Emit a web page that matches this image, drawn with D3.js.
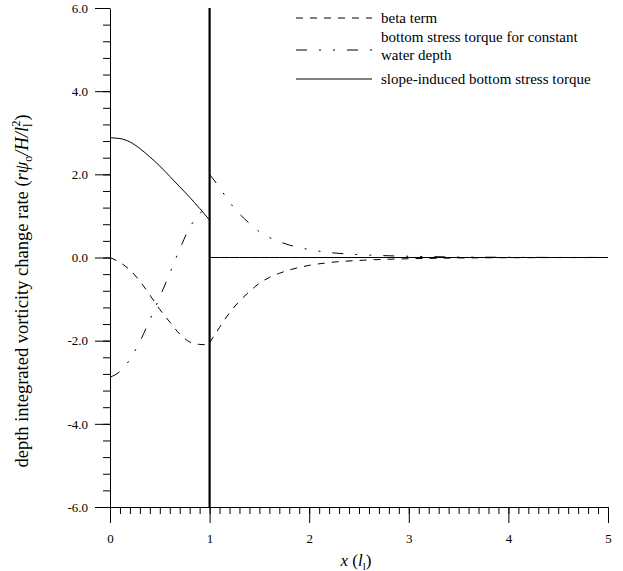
<html>
<meta charset="utf-8" />
<head>
<style>
body { margin: 0; background: #fff; }
svg text { font-family: "Liberation Serif", "DejaVu Serif", serif; fill: black; }
</style>
<script src="https://d3js.org/d3.v7.min.js" charset="utf-8"></script>
</head>
<body>
<svg class="chart" width="623" height="571"></svg>
<script>
// x positions (units of l_l)
var xLeft  = [0, 0.1, 0.2, 0.3, 0.4, 0.5, 0.6, 0.7, 0.8, 0.9, 1.0];
var xRight = [1.0, 1.1, 1.2, 1.3, 1.4, 1.5, 1.6, 1.7, 1.8, 1.9, 2.0, 2.25, 2.5, 2.75, 3.0, 3.5, 4.0, 4.5, 5.0];

// beta term
var betaLeft  = [0, -0.12, -0.30, -0.57, -0.90, -1.25, -1.55, -1.84, -2.03, -2.09, -2.10];
var betaRight = [-2.05, -1.68, -1.33, -1.05, -0.82, -0.62, -0.48, -0.38, -0.30, -0.24, -0.19, -0.11, -0.07, -0.045, -0.03, -0.012, -0.005, -0.002, -0.001];

// bottom stress torque for constant water depth
var bstLeft  = [-2.88, -2.74, -2.45, -2.02, -1.50, -0.95, -0.38, 0.20, 0.72, 1.05, 1.25];
var bstRight = [2.0, 1.68, 1.33, 1.05, 0.82, 0.62, 0.48, 0.38, 0.30, 0.24, 0.19, 0.11, 0.07, 0.045, 0.03, 0.012, 0.005, 0.002, 0.001];

// slope-induced bottom stress torque
var slopeLeft  = [2.88, 2.86, 2.78, 2.62, 2.42, 2.20, 1.95, 1.70, 1.45, 1.18, 0.90];
var slopeRight = [0, 0, 0, 0, 0, 0, 0, 0, 0, 0, 0, 0, 0, 0, 0, 0, 0, 0, 0];

var yMajor = [-6, -4, -2, 0, 2, 4, 6];
var xMajor = [0, 1, 2, 3, 4, 5];

var legendItems = [
  {lines: ["beta term"], dash: "7,7"},
  {lines: ["bottom stress torque for constant", "water depth"], dash: "11,12,2,12,2,12"},
  {lines: ["slope-induced bottom stress torque"], dash: null}
];

var svg = d3.select(".chart");

var x = d3.scaleLinear().domain([0, 5]).range([110, 608]);
var y = d3.scaleLinear().domain([-6, 6]).range([507, 8]);

// minor ticks
var yMinor = d3.range(-6, 6.001, 0.4).map(function(v){ return +v.toFixed(1); });
var xMinor = d3.range(0, 5.001, 0.1).map(function(v){ return +v.toFixed(1); });

function fmtY(v) { return v.toFixed(1); }  // plain hyphen minus like the original

svg.append("g")
  .attr("transform", "translate(110,0)")
  .call(d3.axisLeft(y).tickValues(yMinor).tickSize(7).tickSizeOuter(0).tickFormat(""))
  .call(function(g){ g.select(".domain").remove(); });

svg.append("g")
  .attr("transform", "translate(110,0)")
  .call(d3.axisLeft(y).tickValues(yMajor).tickSize(15).tickSizeOuter(0).tickPadding(7)
    .tickFormat(fmtY))
  .call(function(g){ g.selectAll("text").style("font-size", "13px").attr("font-family", null); });

svg.append("g")
  .attr("transform", "translate(0,507)")
  .call(d3.axisBottom(x).tickValues(xMinor).tickSize(7).tickSizeOuter(0).tickFormat(""))
  .call(function(g){ g.select(".domain").remove(); });

svg.append("g")
  .attr("transform", "translate(0,507)")
  .call(d3.axisBottom(x).tickValues(xMajor).tickSize(16).tickSizeOuter(0).tickPadding(11)
    .tickFormat(d3.format("d")))
  .call(function(g){ g.selectAll("text").style("font-size", "13px").attr("font-family", null); });

// thick line at x = 1
svg.append("line")
  .attr("x1", x(1)).attr("x2", x(1))
  .attr("y1", y(6)).attr("y2", y(-6))
  .attr("stroke", "black").attr("stroke-width", 2.2);

var line = d3.line()
  .x(function(d){ return x(d[0]); })
  .y(function(d){ return y(d[1]); })
  .curve(d3.curveMonotoneX);

function draw(xs, ys, dash, w) {
  var p = svg.append("path")
    .datum(d3.zip(xs, ys))
    .attr("d", line)
    .attr("fill", "none")
    .attr("stroke", "black")
    .attr("stroke-width", w || 1);
  if (dash) p.attr("stroke-dasharray", dash);
}

draw(xLeft, betaLeft, legendItems[0].dash);
draw(xRight, betaRight, legendItems[0].dash);
draw(xLeft, bstLeft, legendItems[1].dash);
draw(xRight, bstRight, legendItems[1].dash);
draw(xLeft, slopeLeft, null);
draw(xRight, slopeRight, null);

// legend
var ly = [18, 50, 79];
legendItems.forEach(function(it, i) {
  svg.append("line")
    .attr("x1", 296).attr("x2", 372)
    .attr("y1", ly[i]).attr("y2", ly[i])
    .attr("stroke", "black").attr("stroke-width", 1)
    .attr("stroke-dasharray", it.dash);
  var t = svg.append("text")
    .attr("x", 381)
    .attr("y", it.lines.length > 1 ? ly[i] - 8 : ly[i] + 5)
    .style("font-size", "15px");
  it.lines.forEach(function(s, j) {
    t.append("tspan").attr("x", 381).attr("dy", j === 0 ? 0 : 18).text(s);
  });
});

// y title
var yt = svg.append("text")
  .attr("transform", "translate(28,291) rotate(-90)")
  .attr("text-anchor", "middle")
  .style("font-size", "18.5px");
yt.append("tspan").text("depth integrated vorticity change rate (");
yt.append("tspan").style("font-style", "italic").text("r\u03C8");
yt.append("tspan").attr("dy", 4).style("font-size", "12px").text("o");
yt.append("tspan").attr("dy", -4).style("font-style", "italic").text("/H/l");
yt.append("tspan").attr("dy", 4).style("font-size", "12px").text("l");
yt.append("tspan").attr("dy", -12).attr("dx", -3).style("font-size", "12px").text("2");
yt.append("tspan").attr("dy", 8).text(")");

// x title
var xt = svg.append("text")
  .attr("x", 356).attr("y", 566)
  .attr("text-anchor", "middle")
  .style("font-size", "17px");
xt.append("tspan").style("font-style", "italic").text("x");
xt.append("tspan").text(" (");
xt.append("tspan").style("font-style", "italic").text("l");
xt.append("tspan").attr("dy", 4).style("font-size", "11px").text("l");
xt.append("tspan").attr("dy", -4).text(")");
</script>
</body>
</html>
